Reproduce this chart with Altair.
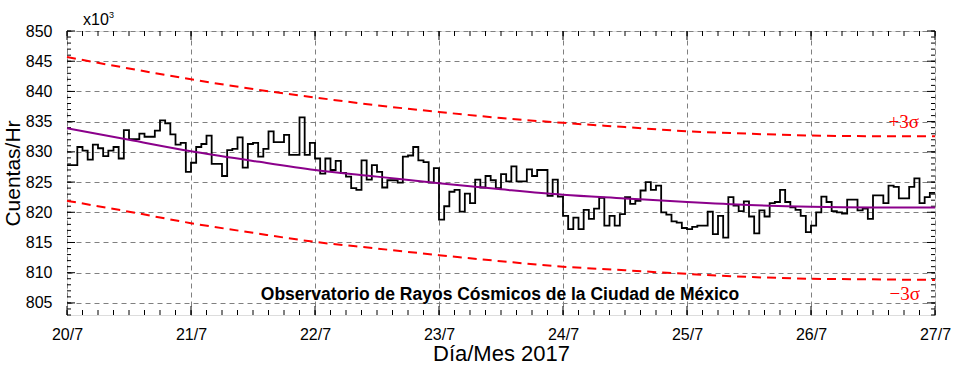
import altair as alt
import pandas as pd

# Hourly counts (x10^3), 20/7 00h .. 26/7 23h
counts = [
    827.8, 827.8, 830.8, 830.2, 828.7, 831.2, 830.6, 829.3, 830.2, 830.8, 828.9, 833.6,
    832.1, 832.1, 833.0, 832.5, 832.5, 833.5, 835.2, 834.7, 832.9, 831.2, 831.5, 826.7,
    828.2, 830.8, 831.3, 832.7, 828.0, 828.0, 826.0, 830.3, 830.5, 832.4, 827.4, 831.3,
    831.5, 829.2, 830.5, 833.4, 831.6, 831.6, 832.8, 829.5, 829.5, 835.7, 829.5, 831.5,
    828.9, 826.4, 828.9, 827.0, 828.5, 826.5, 825.9, 824.0, 823.7, 828.6, 825.4, 827.8,
    826.7, 824.1, 825.3, 825.3, 824.9, 829.2, 829.4, 830.8, 828.6, 828.3, 824.9, 827.3,
    818.8, 821.0, 823.4, 823.7, 820.1, 823.1, 821.5, 825.4, 824.1, 826.0, 825.3, 824.0,
    826.3, 825.1, 827.6, 825.1, 825.1, 827.1, 826.0, 827.0, 827.0, 822.7, 825.4, 822.6,
    819.4, 817.2, 819.1, 817.2, 820.4, 818.9, 820.6, 822.4, 817.8, 819.4, 817.8, 819.7,
    822.5, 821.4, 821.9, 823.6, 825.0, 823.7, 824.4, 820.0, 819.6, 818.5, 818.3, 817.4,
    817.2, 817.6, 817.8, 817.8, 820.1, 816.4, 819.4, 815.8, 822.5, 821.1,
    820.2, 821.8, 819.3, 816.5, 820.3, 819.3, 821.5, 821.7, 823.7, 821.7, 820.8, 820.4,
    819.4, 816.7, 817.8, 820.0, 822.6, 821.7, 820.2, 820.0, 819.8, 822.1, 822.1, 820.3,
    820.6, 818.9, 822.8, 822.8, 821.5, 824.4, 824.2, 822.3, 822.3, 824.2, 825.6, 821.5,
    822.5, 823.2,
]

# Fit and +/-3 sigma curves, read every 12 hours
trend_hours = [0, 12, 24, 36, 48, 60, 72, 84, 96, 108, 120, 132, 144, 156, 168]
trend = [833.9, 832.0, 830.1, 828.5, 827.0, 825.9, 824.8, 823.8, 822.9, 822.3, 821.7, 821.2, 820.9, 820.8, 820.8]
upper = [845.7, 843.8, 842.0, 840.4, 839.0, 837.7, 836.6, 835.6, 834.8, 834.1, 833.4, 833.0, 832.7, 832.6, 832.6]
lower = [821.9, 820.1, 818.2, 816.6, 815.1, 814.0, 812.9, 811.9, 811.0, 810.4, 809.8, 809.3, 809.0, 808.9, 808.8]

day_labels = ["20/7", "21/7", "22/7", "23/7", "24/7", "25/7", "26/7", "27/7"]
y_major = [805, 810, 815, 820, 825, 830, 835, 840, 845, 850]
y_minor = list(range(803, 851))
x_major = [0, 24, 48, 72, 96, 120, 144, 168]
x_minor = list(range(0, 169, 3))

W, H = 868, 284
FONT = "Liberation Sans"

n = len(counts)
step_df = pd.DataFrame({"hora": list(range(n)) + [n], "cuentas": counts + [counts[-1]]})
band_df = pd.DataFrame({"hora": trend_hours, "ajuste": trend, "sup": upper, "inf": lower})

xs = alt.Scale(domain=[0, 168], nice=False, zero=False)
ys = alt.Scale(domain=[803, 850], nice=False, zero=False)

label_expr = "[" + ",".join("'%s'" % l for l in day_labels) + "][round(datum.value/24)]"

x_axis = alt.Axis(values=x_major, labelExpr=label_expr, title="Día/Mes 2017",
                  grid=True, gridDash=[5, 4], gridColor="#808080", gridWidth=1,
                  ticks=False, domain=False, labelPadding=11, labelFontSize=16,
                  labelFlush=False, titleFontSize=22, titleFontWeight="normal",
                  titlePadding=1, labelFont=FONT, titleFont=FONT, labelColor="black",
                  titleColor="black")
y_axis = alt.Axis(values=y_major, title="Cuentas/Hr", grid=True, gridDash=[5, 4],
                  gridColor="#808080", gridWidth=1, ticks=False, domain=False,
                  labelPadding=15, labelFontSize=16, titleFontSize=21,
                  titleFontWeight="normal", titlePadding=2, labelFont=FONT,
                  titleFont=FONT, labelColor="black", titleColor="black")

X = alt.X("hora:Q", scale=xs, axis=x_axis)

step = alt.Chart(step_df).mark_line(interpolate="step-after", color="black", strokeWidth=1.8).encode(
    x=X, y=alt.Y("cuentas:Q", scale=ys, axis=y_axis))

fit = alt.Chart(band_df).mark_line(interpolate="monotone", color="#8B008B", strokeWidth=2).encode(
    x=X, y=alt.Y("ajuste:Q", scale=ys, axis=y_axis))
up = alt.Chart(band_df).mark_line(interpolate="monotone", color="#FF0000", strokeWidth=2,
                                  strokeDash=[9, 6]).encode(
    x=X, y=alt.Y("sup:Q", scale=ys, axis=y_axis))
lo = alt.Chart(band_df).mark_line(interpolate="monotone", color="#FF0000", strokeWidth=2,
                                  strokeDash=[9, 6]).encode(
    x=X, y=alt.Y("inf:Q", scale=ys, axis=y_axis))

# inward ticks on all four sides
ymin_df = pd.DataFrame({"v": y_minor})
ymaj_df = pd.DataFrame({"v": y_major})
xmin_df = pd.DataFrame({"h": x_minor})
xmaj_df = pd.DataFrame({"h": x_major})

def yticks(df, length):
    yy = alt.Y("v:Q", scale=ys, axis=y_axis)
    l = alt.Chart(df).mark_rule(color="black", strokeWidth=1).encode(
        y=yy, x=alt.value(0), x2=alt.value(length))
    r = alt.Chart(df).mark_rule(color="black", strokeWidth=1).encode(
        y=yy, x=alt.value(W - length), x2=alt.value(W))
    return [l, r]

def xticks(df, length):
    xx = alt.X("h:Q", scale=xs, axis=x_axis)
    b = alt.Chart(df).mark_rule(color="black", strokeWidth=1).encode(
        x=xx, y=alt.value(H - length), y2=alt.value(H))
    t = alt.Chart(df).mark_rule(color="black", strokeWidth=1).encode(
        x=xx, y=alt.value(0), y2=alt.value(length))
    return [b, t]

ticks = yticks(ymin_df, 4) + yticks(ymaj_df, 8) + xticks(xmin_df, 5) + xticks(xmaj_df, 9)

dummy = pd.DataFrame({"a": [0]})

def label(txt, x, y, size, color="black", align="left", weight="normal", font=FONT):
    return alt.Chart(dummy).mark_text(text=txt, align=align, baseline="alphabetic",
                                      fontSize=size, color=color, fontWeight=weight,
                                      font=font).encode(x=alt.value(x), y=alt.value(y))

texts = [
    label("+3σ", 852, 97, 19, color="#FF0000", align="right", font="Liberation Serif"),
    label("−3σ", 853, 269, 19, color="#FF0000", align="right", font="Liberation Serif"),
    label("Observatorio de Rayos Cósmicos de la Ciudad de México", 433, 269, 17.5,
          align="center", weight="bold"),
    label("x10", 16, -6, 16),
    label("3", 42, -13, 9),
]

chart = alt.layer(*ticks, up, lo, step, fit, *texts).properties(
    width=W, height=H,
    padding={"left": 67, "top": 31, "right": 19, "bottom": 61},
    autosize="none",
).configure_view(stroke="black", strokeWidth=2).configure(background="white")

chart.save("out.html", embed_options={"renderer": "svg", "actions": False})
